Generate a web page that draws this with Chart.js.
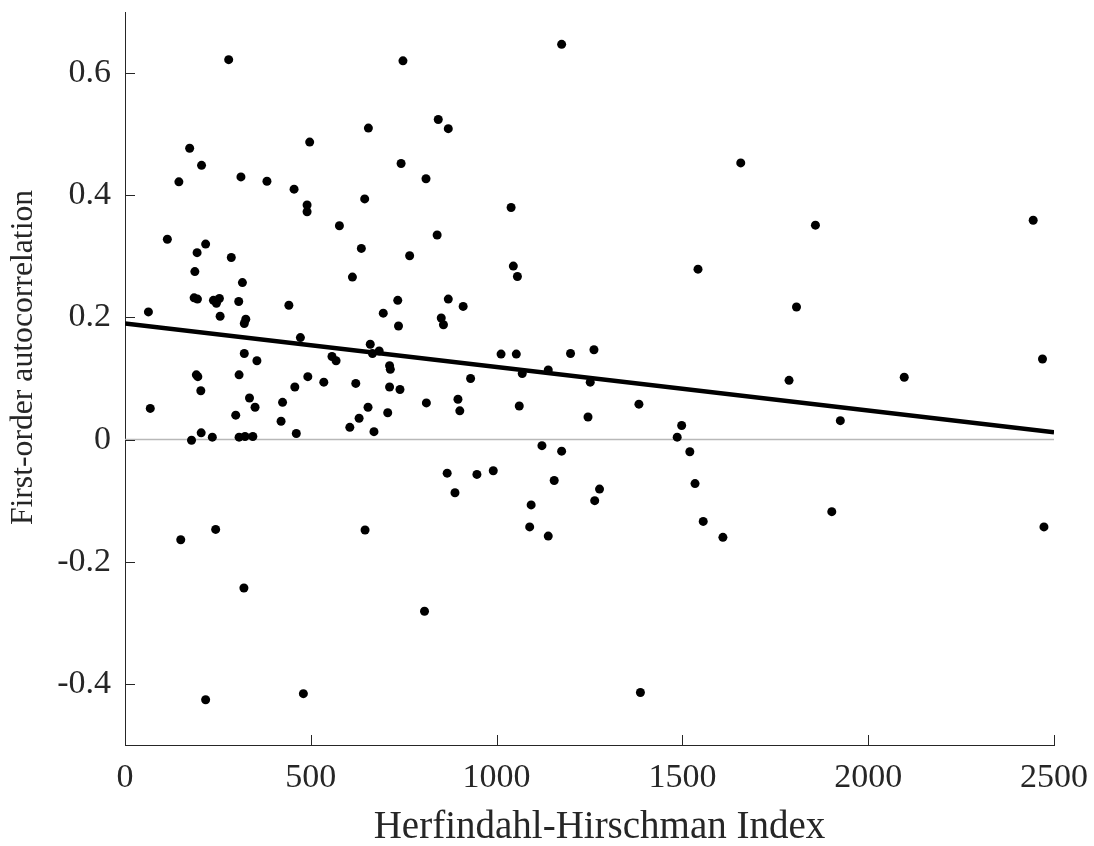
<!DOCTYPE html>
<html>
<head>
<meta charset="utf-8">
<script src="https://cdn.jsdelivr.net/npm/chart.js@4.4.1/dist/chart.umd.min.js"></script>
<style>
html,body{margin:0;padding:0;background:#ffffff;}
#wrap{width:1094px;height:846px;position:relative;}
canvas{display:block;}
</style>
</head>
<body>
<div id="wrap"><canvas id="c" width="1094" height="846"></canvas></div>
<script>
// ---- data ----
const hhi = [
  279, 748, 843, 655, 497, 174, 206, 743, 145, 312, 382, 810, 455, 490, 490, 645, 577, 840, 114, 217,
  194, 636, 286, 766, 188, 612, 316, 186, 195, 238, 254, 246, 306, 441, 734, 63, 256, 325, 321, 695,
  736, 851, 857, 472, 660, 666, 684, 321, 355, 557, 568, 712, 714,
  192, 196, 307, 492, 535, 204, 68, 335, 298, 350, 424, 420, 457, 621, 712, 740, 654, 630, 605, 670,
  707, 811, 205, 179, 235, 307, 323, 344, 461, 244, 150, 646, 320, 806, 217, 480,
  1175, 870, 1657, 1039, 1045, 1056, 1542, 870, 910, 1012, 1053, 1199, 1262, 930, 1069, 1139,
  1252, 896, 901, 1061, 1246, 1383, 1498, 1486, 1122, 1175, 1520, 867, 947, 991, 888, 1155, 1277, 1264,
  1534, 1093, 1089, 1139, 1556, 1609, 1387,
  1858, 2444, 1807, 2469, 1787, 2097, 1925, 1902, 2473
];
const autocorr = [
  0.622, 0.620, 0.524, 0.510, 0.487, 0.477, 0.449, 0.452, 0.422, 0.430, 0.423, 0.427, 0.410, 0.384, 0.373, 0.394, 0.350, 0.335, 0.328, 0.320,
  0.306, 0.313, 0.298, 0.301, 0.275, 0.266, 0.257, 0.232, 0.230, 0.228, 0.231, 0.223, 0.226, 0.220, 0.228, 0.209, 0.202, 0.197, 0.190, 0.207,
  0.186, 0.199, 0.188, 0.167, 0.156, 0.141, 0.145, 0.141, 0.129, 0.136, 0.129, 0.121, 0.115,
  0.106, 0.103, 0.106, 0.103, 0.094, 0.080, 0.051, 0.068, 0.040, 0.053, 0.061, 0.030, 0.086, 0.092, 0.086, 0.082, 0.053, 0.035, 0.020, 0.013,
  0.044, 0.060, 0.011, -0.001, 0.004, 0.004, 0.005, 0.005, 0.010, -0.147, -0.164, -0.148, -0.243, -0.281, -0.426, -0.416,
  0.647, 0.509, 0.453, 0.380, 0.284, 0.267, 0.279, 0.230, 0.218, 0.140, 0.140, 0.141, 0.147, 0.100, 0.108, 0.114,
  0.094, 0.066, 0.047, 0.055, 0.037, 0.058, 0.023, 0.004, -0.010, -0.019, -0.020, -0.055, -0.057, -0.051, -0.087, -0.067, -0.081, -0.100,
  -0.072, -0.107, -0.143, -0.158, -0.134, -0.160, -0.414,
  0.351, 0.359, 0.217, 0.132, 0.097, 0.102, 0.031, -0.118, -0.143
];
const fitX = [0, 2500];
const fitY = [0.19, 0.012];
const zeroX = [0, 2500];
const zeroY = [0, 0];
const xTickValues = [0, 500, 1000, 1500, 2000, 2500];
const yTickValues = [-0.4, -0.2, 0, 0.2, 0.4, 0.6];
const xRange = [0, 2500];
const yRange = [-0.5, 0.7];
const xTitle = 'Herfindahl-Hirschman Index';
const yTitle = 'First-order autocorrelation';

// ---- chart ----
const ink = '#262626';
const serif = "'Liberation Serif', 'DejaVu Serif', serif";

const innerTicks = {
  id: 'innerTicks',
  afterDraw(chart) {
    const {ctx, chartArea: a, scales: {x, y}} = chart;
    ctx.save();
    ctx.strokeStyle = ink;
    ctx.lineWidth = 1;
    x.ticks.forEach(t => {
      const px = Math.round(x.getPixelForValue(t.value)) + 0.5;
      ctx.beginPath(); ctx.moveTo(px, a.bottom); ctx.lineTo(px, a.bottom - 10); ctx.stroke();
    });
    y.ticks.forEach(t => {
      const py = Math.round(y.getPixelForValue(t.value)) + 0.5;
      ctx.beginPath(); ctx.moveTo(a.left, py); ctx.lineTo(a.left + 10, py); ctx.stroke();
    });
    ctx.restore();
  }
};

// axis titles, placed relative to the chart area as in the reference
const axisTitles = {
  id: 'axisTitles',
  afterDraw(chart) {
    const {ctx, chartArea: a} = chart;
    ctx.save();
    ctx.fillStyle = ink;
    ctx.textAlign = 'center';
    ctx.textBaseline = 'alphabetic';
    ctx.font = `39px ${serif}`;
    ctx.fillText(xTitle, (a.left + a.right) / 2 + 10, a.bottom + 93);
    ctx.translate(a.left - 93, (a.top + a.bottom) / 2 - 21);
    ctx.rotate(-Math.PI / 2);
    ctx.font = `31.7px ${serif}`;
    ctx.fillText(yTitle, 0, 0);
    ctx.restore();
  }
};

const toPts = (xs, ys) => xs.map((v, i) => ({x: v, y: ys[i]}));

new Chart(document.getElementById('c'), {
  type: 'scatter',
  data: {
    datasets: [
      {
        type: 'line', data: toPts(fitX, fitY), borderColor: '#000000', borderWidth: 4.5,
        pointRadius: 0, showLine: true, fill: false, order: 1
      },
      {
        type: 'scatter', data: toPts(hhi, autocorr), backgroundColor: '#000000', borderWidth: 0,
        pointRadius: 4.5, pointHoverRadius: 4.5, order: 2
      },
      {
        type: 'line', data: toPts(zeroX, zeroY), borderColor: '#b8b8b8', borderWidth: 1.5,
        pointRadius: 0, showLine: true, fill: false, order: 3
      }
    ]
  },
  options: {
    responsive: false,
    animation: false,
    devicePixelRatio: 1,
    layout: {padding: {top: 12, right: 40, left: 0, bottom: 0}},
    plugins: {legend: {display: false}, tooltip: {enabled: false}},
    scales: {
      x: {
        type: 'linear', min: xRange[0], max: xRange[1],
        grid: {display: false, drawTicks: false},
        border: {display: true, color: ink, width: 1},
        afterBuildTicks: s => { s.ticks = xTickValues.map(v => ({value: v})); },
        afterFit: s => { s.height = 101; s.paddingLeft = 0; s.paddingRight = 0; },
        ticks: {color: ink, font: {family: serif, size: 34}, padding: 13, maxRotation: 0,
          callback: v => String(v)},
        title: {display: false}
      },
      y: {
        type: 'linear', min: yRange[0], max: yRange[1],
        grid: {display: false, drawTicks: false},
        border: {display: true, color: ink, width: 1},
        afterBuildTicks: s => { s.ticks = yTickValues.map(v => ({value: v})); },
        afterFit: s => { s.width = 125; s.paddingTop = 0; s.paddingBottom = 0; },
        ticks: {color: ink, font: {family: serif, size: 34}, padding: 14,
          callback: v => String(v)},
        title: {display: false}
      }
    }
  },
  plugins: [innerTicks, axisTitles]
});
</script>
</body>
</html>
